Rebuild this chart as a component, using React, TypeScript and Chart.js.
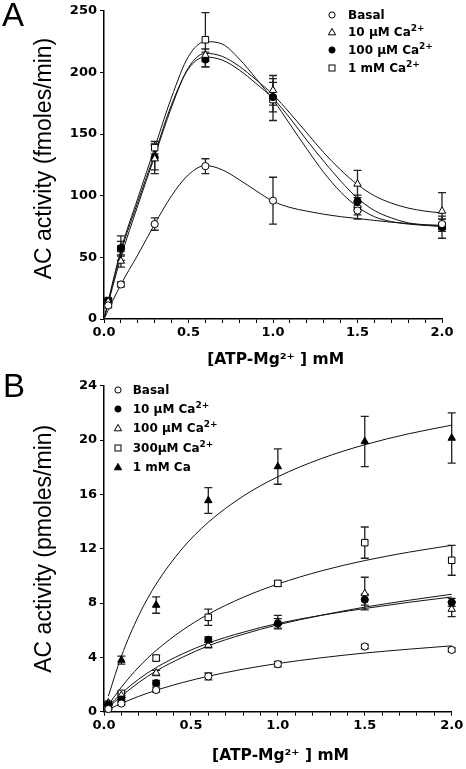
import React, { useEffect, useRef } from "react";
import { Chart, registerables } from "chart.js";

Chart.register(...registerables);

// ---------- Panel A data (fmoles/min) ----------
const xA = [0.025, 0.1, 0.3, 0.6, 1.0, 1.5, 2.0];
const basalA = [11, 28, 77, 124, 96, 88, 77];
const errBasalA = [2, 2, 5, 6, 19, 7, 4];
const ca10A = [14, 47, 130, 214, 185.5, 109.5, 87.5];
const errCa10A = [2, 5, 12, 5, 12, 11, 15];
const ca100A = [14.5, 57.5, 131, 210.5, 180, 95.5, 74.5];
const errCa100A = [2, 10, 10, 6, 12, 5, 9];
const ca1mA = [15, 57, 139, 226.5, 178, 89.5, 76];
const errCa1mA = [2, 6, 5, 22, 17, 5, 5];

// fitted curves
const fitXA = [0, 0.1, 0.2, 0.3, 0.4, 0.5, 0.6, 0.7, 0.8, 0.9, 1.0, 1.1, 1.2, 1.3, 1.4, 1.5, 1.6, 1.7, 1.8, 1.9, 2.0];
const fitBasalA = [0, 28, 52, 77, 100, 117, 124.5, 121, 113, 104, 95.5, 90.5, 87.5, 85, 83, 81.5, 80, 78.5, 77.5, 76.5, 76];
const fitCa10A = [0, 50, 92, 132, 172, 204, 215.5, 213, 205, 194, 182, 167, 151, 135, 121, 109, 100, 94, 90, 87.5, 86];
const fitCa100A = [0, 54, 95, 134, 174, 203, 212.5, 210, 202, 191, 179, 163, 145, 128, 112, 98, 88, 82, 78, 76, 75];
const fitCa1mA = [0, 56, 98, 139, 180, 213, 225, 223, 211, 195, 178, 158, 138, 119, 103, 91, 83, 79, 77, 76, 75.5];

// ---------- Panel B data (pmoles/min) ----------
const xB = [0.025, 0.1, 0.3, 0.6, 1.0, 1.5, 2.0];
const basalB = [0.2, 0.6, 1.6, 2.6, 3.5, 4.8, 4.55];
const errBasalB = [0.05, 0.1, 0.15, 0.25, 0.2, 0.15, 0.15];
const ca10B = [0.5, 0.9, 2.1, 5.3, 6.5, 8.25, 8.05];
const errCa10B = [0.05, 0.15, 0.2, 0.2, 0.35, 0.4, 0.3];
const ca100B = [0.6, 1.2, 2.85, 4.9, 6.6, 8.7, 7.55];
const errCa100B = [0.05, 0.15, 0.2, 0.2, 0.5, 1.2, 0.55];
const ca300B = [0.55, 1.35, 3.95, 6.95, 9.45, 12.45, 11.15];
const errCa300B = [0.05, 0.15, 0.2, 0.6, 0.2, 1.15, 1.1];
const ca1mB = [0.65, 3.8, 7.85, 15.55, 18.05, 19.9, 20.15];
const errCa1mB = [0.1, 0.3, 0.6, 0.95, 1.3, 1.85, 1.85];

const fitXB = [0.025, 0.1, 0.2, 0.3, 0.45, 0.6, 0.8, 1.0, 1.25, 1.5, 1.75, 2.0];
const fitBasalB = [0.17, 0.61, 1.13, 1.58, 2.14, 2.61, 3.13, 3.55, 3.97, 4.32, 4.6, 4.85];
const fitCa10B = [0.4, 1.35, 2.4, 3.25, 4.25, 5.05, 5.85, 6.5, 7.1, 7.6, 8.05, 8.45];
const fitCa100B = [0.32, 1.15, 2.15, 3.0, 4.0, 4.85, 5.7, 6.4, 7.1, 7.7, 8.2, 8.65];
const fitCa300B = [0.49, 1.81, 3.29, 4.51, 5.99, 7.18, 8.42, 9.4, 10.37, 11.13, 11.74, 12.25];
const fitCa1mB = [1.15, 4.08, 7.09, 9.4, 12.01, 13.95, 15.87, 17.3, 18.64, 19.66, 20.46, 21.1];

const xTickLabelsEvery = 0.5;

type Marker = "circle" | "circleFilled" | "triangle" | "triangleFilled" | "square";

const pts = (xs: number[], ys: number[]) => xs.map((x, i) => ({ x, y: ys[i] }));

const errorBarPlugin = {
  id: "errorBars",
  beforeDatasetsDraw(chart: any) {
    const { ctx } = chart;
    const x = chart.scales.x;
    const y = chart.scales.y;
    ctx.save();
    ctx.strokeStyle = "#222";
    ctx.lineWidth = 1.3;
    chart.data.datasets.forEach((ds: any) => {
      if (!ds.errors) return;
      ds.data.forEach((p: any, i: number) => {
        const e = ds.errors[i];
        const px = x.getPixelForValue(p.x);
        const top = y.getPixelForValue(p.y + e);
        const bot = y.getPixelForValue(p.y - e);
        ctx.beginPath();
        ctx.moveTo(px, top);
        ctx.lineTo(px, bot);
        ctx.moveTo(px - 4, top);
        ctx.lineTo(px + 4, top);
        ctx.moveTo(px - 4, bot);
        ctx.lineTo(px + 4, bot);
        ctx.stroke();
      });
    });
    ctx.restore();
  },
};

function pointDs(xs: number[], ys: number[], errs: number[], marker: Marker) {
  const filled = marker === "circleFilled" || marker === "triangleFilled";
  const style = marker.startsWith("circle") ? "circle" : marker.startsWith("triangle") ? "triangle" : "rect";
  const radius = style === "circle" ? 3.6 : style === "triangle" ? 4.3 : 4.6;
  return {
    type: "scatter",
    data: pts(xs, ys),
    errors: errs,
    showLine: false,
    pointStyle: style,
    pointRadius: radius,
    pointBackgroundColor: filled ? "#000" : "#fff",
    pointBorderColor: "#000",
    pointBorderWidth: 1,
    order: 0,
    clip: false,
  };
}

function curveDs(xs: number[], ys: number[]) {
  return {
    type: "line",
    data: pts(xs, ys),
    borderColor: "#111",
    borderWidth: 1,
    pointRadius: 0,
    fill: false,
    cubicInterpolationMode: "monotone",
    order: 1,
    clip: false,
  };
}

function makeOptions(p: {
  yMax: number;
  yStep: number;
  yTitle: string;
  padTop: number;
  padRight: number;
  xAxisHeight: number;
  xTitlePadBottom: number;
}) {
  const tickFont = { family: "DejaVu Sans", weight: "bold" as const, size: 13 };
  return {
    responsive: false,
    animation: false,
    events: [],
    layout: { padding: { top: p.padTop, right: p.padRight, left: 0, bottom: 0 } },
    plugins: { legend: { display: false }, tooltip: { enabled: false } },
    scales: {
      x: {
        type: "linear",
        min: 0,
        max: 2,
        border: { color: "#000", width: 1.5 },
        grid: { drawOnChartArea: false, drawTicks: true, tickLength: 4, color: "#000", tickWidth: 1 },
        ticks: {
          stepSize: 0.1,
          autoSkip: false,
          maxRotation: 0,
          padding: 2,
          color: "#000",
          font: tickFont,
          callback: (v: number) => {
            const t = Math.round(v * 10);
            return t % Math.round(xTickLabelsEvery * 10) === 0 ? (t / 10).toFixed(1) : "";
          },
        },
        title: {
          display: true,
          text: " [ATP-Mg²⁺ ] mM",
          color: "#000",
          font: { family: "DejaVu Sans", weight: "bold" as const, size: 15.5 },
          padding: { top: 0, bottom: p.xTitlePadBottom },
        },
        afterFit: (s: any) => {
          s.height = p.xAxisHeight;
        },
      },
      y: {
        type: "linear",
        min: 0,
        max: p.yMax,
        border: { color: "#000", width: 1.5 },
        grid: { drawOnChartArea: false, drawTicks: true, tickLength: 4, color: "#000" },
        ticks: { stepSize: p.yStep, padding: 3, color: "#000", font: tickFont },
        title: {
          display: true,
          text: p.yTitle,
          color: "#000",
          font: { family: "Liberation Sans", size: 23, weight: "normal" as const },
          padding: { top: 31, bottom: 0 },
        },
        afterFit: (s: any) => {
          s.width = 104;
        },
      },
    },
  };
}

function ChartCanvas({ width, height, config }: { width: number; height: number; config: any }) {
  const ref = useRef<HTMLCanvasElement | null>(null);
  useEffect(() => {
    if (!ref.current) return;
    const chart = new Chart(ref.current, config);
    return () => chart.destroy();
  }, []);
  return <canvas ref={ref} width={width} height={height} style={{ display: "block", width, height }} />;
}

function MarkerIcon({ m }: { m: Marker }) {
  const fill = m === "circleFilled" || m === "triangleFilled" ? "#000" : "#fff";
  let shape: any;
  if (m.startsWith("circle")) shape = <circle cx={5} cy={5} r={3.1} fill={fill} stroke="#000" strokeWidth={1} />;
  else if (m.startsWith("triangle")) shape = <polygon points="5,1.4 8.6,7.8 1.4,7.8" fill={fill} stroke="#000" strokeWidth={1} />;
  else shape = <rect x={2} y={2} width={6} height={6} fill={fill} stroke="#000" strokeWidth={1} />;
  return (
    <svg width={10} height={10} style={{ display: "block" }}>
      {shape}
    </svg>
  );
}

const Sup = ({ children }: { children: any }) => (
  <span style={{ fontSize: 9, position: "relative", top: -5 }}>{children}</span>
);

function Legend({
  items,
  markerX,
  textX,
  rowYs,
}: {
  items: { m: Marker; label: any }[];
  markerX: number;
  textX: number;
  rowYs: number[];
}) {
  return (
    <>
      {items.map((it, i) => (
        <React.Fragment key={i}>
          <div style={{ position: "absolute", left: markerX - 5, top: rowYs[i] - 5 }}>
            <MarkerIcon m={it.m} />
          </div>
          <div
            style={{
              position: "absolute",
              left: textX,
              top: rowYs[i] - 8,
              height: 16,
              lineHeight: "16px",
              fontFamily: "DejaVu Sans",
              fontWeight: "bold",
              fontSize: 12,
              whiteSpace: "nowrap",
              color: "#000",
            }}
          >
            {it.label}
          </div>
        </React.Fragment>
      ))}
    </>
  );
}

export default function App() {
  useEffect(() => {
    document.body.style.margin = "0";
  }, []);

  const configA = {
    data: {
      datasets: [
        pointDs(xA, basalA, errBasalA, "circle"),
        pointDs(xA, ca10A, errCa10A, "triangle"),
        pointDs(xA, ca100A, errCa100A, "circleFilled"),
        pointDs(xA, ca1mA, errCa1mA, "square"),
        curveDs(fitXA, fitBasalA),
        curveDs(fitXA, fitCa10A),
        curveDs(fitXA, fitCa100A),
        curveDs(fitXA, fitCa1mA),
      ],
    },
    options: makeOptions({
      yMax: 250,
      yStep: 50,
      yTitle: "  AC activity (fmoles/min)",
      padTop: 7,
      padRight: 24,
      xAxisHeight: 53,
      xTitlePadBottom: 3,
    }),
    plugins: [errorBarPlugin],
  };

  const configB = {
    data: {
      datasets: [
        pointDs(xB, basalB, errBasalB, "circle"),
        pointDs(xB, ca10B, errCa10B, "circleFilled"),
        pointDs(xB, ca100B, errCa100B, "triangle"),
        pointDs(xB, ca300B, errCa300B, "square"),
        pointDs(xB, ca1mB, errCa1mB, "triangleFilled"),
        curveDs(fitXB, fitBasalB),
        curveDs(fitXB, fitCa10B),
        curveDs(fitXB, fitCa100B),
        curveDs(fitXB, fitCa300B),
        curveDs(fitXB, fitCa1mB),
      ],
    },
    options: makeOptions({
      yMax: 24,
      yStep: 4,
      yTitle: "AC activity (pmoles/min)",
      padTop: 6.7,
      padRight: 14.3,
      xAxisHeight: 57.3,
      xTitlePadBottom: 4,
    }),
    plugins: [errorBarPlugin],
  };

  const panelLetter = { position: "absolute" as const, fontFamily: "Liberation Sans", fontSize: 33, lineHeight: "33px", color: "#000" };

  return (
    <div style={{ position: "relative", width: 466, height: 769, background: "#fff", overflow: "hidden" }}>
      <div style={{ position: "absolute", left: 0, top: 0 }}>
        <ChartCanvas width={466} height={372} config={configA} />
      </div>
      <div style={{ position: "absolute", left: 0, top: 375 }}>
        <ChartCanvas width={466} height={394} config={configB} />
      </div>
      <div style={{ ...panelLetter, left: 2, top: -2.3 }}>A</div>
      <div style={{ ...panelLetter, left: 3, top: 368.8 }}>B</div>
      <Legend
        markerX={332}
        textX={348}
        rowYs={[15, 32, 49.5, 67.5]}
        items={[
          { m: "circle", label: "Basal" },
          { m: "triangle", label: <>10 μM Ca<Sup>2+</Sup></> },
          { m: "circleFilled", label: <>100 μM Ca<Sup>2+</Sup></> },
          { m: "square", label: <>1 mM Ca<Sup>2+</Sup></> },
        ]}
      />
      <Legend
        markerX={118.3}
        textX={132.7}
        rowYs={[390, 409.3, 428.3, 448.3, 467.3]}
        items={[
          { m: "circle", label: "Basal" },
          { m: "circleFilled", label: <>10 μM Ca<Sup>2+</Sup></> },
          { m: "triangle", label: <>100 μM Ca<Sup>2+</Sup></> },
          { m: "square", label: <>300μM Ca<Sup>2+</Sup></> },
          { m: "triangleFilled", label: "1 mM Ca" },
        ]}
      />
    </div>
  );
}
